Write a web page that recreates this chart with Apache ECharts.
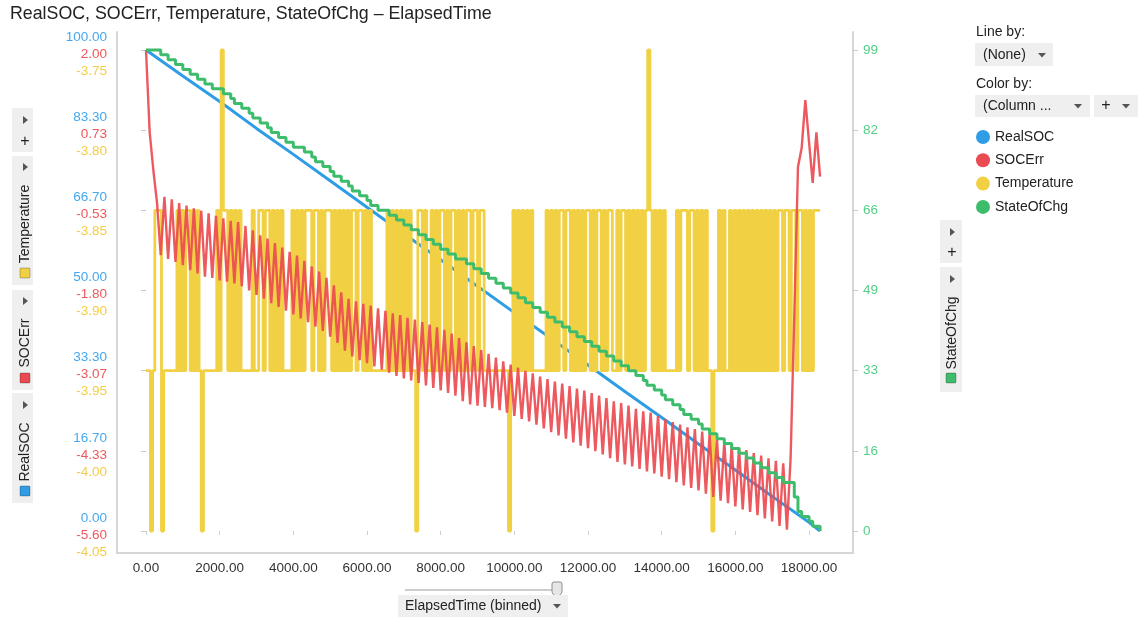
<!DOCTYPE html>
<html>
<head>
<meta charset="utf-8">
<title>RealSOC, SOCErr, Temperature, StateOfChg – ElapsedTime</title>
<script src="https://cdn.jsdelivr.net/npm/echarts@6/dist/echarts.min.js"></script>
<style>
  html, body { margin: 0; padding: 0; background: #fff; }
  #chart { width: 1146px; height: 619px; }
</style>
</head>
<body>
<div id="chart"></div>
<script>
// ElapsedTime is binned: SOCErr / StateOfChg per 100 s, Temperature per 60 s
const binWidth = 100;
const tempBinWidth = 60;

// RealSOC sampled every 1000 s (plus the last bin)
const socTimes = [0, 1000, 2000, 3000, 4000, 5000, 6000, 7000, 8000, 9000,
  10000, 11000, 12000, 13000, 14000, 15000, 16000, 17000, 18000, 18300];
const realSOC = [100, 94.6, 89.3, 83.7, 78.3, 72.8, 67.3, 61.8, 56.4, 50.9,
  45.4, 40.0, 34.5, 29.0, 23.6, 18.1, 12.7, 7.2, 1.8, 0];

const socErr = [
  2.00, 0.70, 0.10, -0.42, -1.24, -0.32, -1.30, -0.36, -1.35, -0.42,
  -1.40, -0.46, -1.48, -0.50, -1.53, -0.54, -1.58, -0.58, -1.60, -0.62,
  -1.64, -0.66, -1.66, -0.70, -1.69, -0.72, -1.73, -0.78, -1.80, -0.85,
  -1.87, -0.93, -1.93, -0.98, -2.00, -1.05, -2.06, -1.12, -2.12, -1.19,
  -2.18, -1.25, -2.24, -1.33, -2.30, -1.42, -2.37, -1.50, -2.44, -1.60,
  -2.53, -1.72, -2.63, -1.83, -2.75, -1.93, -2.84, -1.97, -2.90, -2.01,
  -2.95, -2.04, -3.00, -2.08, -3.05, -2.12, -3.10, -2.16, -3.15, -2.19,
  -3.19, -2.23, -3.22, -2.26, -3.26, -2.30, -3.30, -2.34, -3.34, -2.38,
  -3.38, -2.42, -3.42, -2.48, -3.46, -2.55, -3.55, -2.62, -3.60, -2.68,
  -3.62, -2.74, -3.64, -2.80, -3.66, -2.86, -3.69, -2.92, -3.73, -2.97,
  -3.78, -3.02, -3.83, -3.07, -3.87, -3.11, -3.92, -3.16, -3.98, -3.20,
  -4.04, -3.24, -4.09, -3.27, -4.14, -3.31, -4.20, -3.35, -4.25, -3.38,
  -4.29, -3.42, -4.34, -3.46, -4.39, -3.50, -4.45, -3.55, -4.51, -3.58,
  -4.55, -3.62, -4.58, -3.67, -4.62, -3.71, -4.66, -3.73, -4.69, -3.78,
  -4.74, -3.83, -4.78, -3.88, -4.83, -3.92, -4.88, -3.96, -4.92, -3.99,
  -4.96, -4.03, -5.01, -4.07, -5.06, -4.14, -5.12, -4.19, -5.16, -4.24,
  -5.21, -4.28, -5.26, -4.32, -5.30, -4.37, -5.35, -4.41, -5.40, -4.45,
  -5.45, -4.49, -5.52, -4.53, -5.58, -4.45, -2.20, 0.15, 0.45, 1.21,
  0.55, -0.10, 0.70, 0.00
];

// Temperature per 60 s bin: -3.85 / -3.95 levels, spikes to -3.75 and -4.05
const temperature = [
  -3.95, -3.95, -4.05, -3.95, -3.85, -3.85, -3.85, -4.05, -3.95, -3.95,
  -3.95, -3.95, -3.95, -3.95, -3.85, -3.95, -3.85, -3.95, -3.85, -3.85,
  -3.95, -3.85, -3.95, -3.85, -3.95, -4.05, -3.95, -3.95, -3.95, -3.95,
  -3.95, -3.95, -3.85, -3.95, -3.75, -3.85, -3.85, -3.95, -3.85, -3.95,
  -3.85, -3.95, -3.85, -3.95, -3.95, -3.95, -3.95, -3.95, -3.85, -3.95,
  -3.95, -3.85, -3.85, -3.95, -3.85, -3.85, -3.95, -3.85, -3.95, -3.85,
  -3.95, -3.85, -3.95, -3.95, -3.95, -3.95, -3.85, -3.95, -3.85, -3.95,
  -3.85, -3.95, -3.85, -3.85, -3.85, -3.95, -3.85, -3.85, -3.95, -3.85,
  -3.95, -3.85, -3.85, -3.85, -3.95, -3.85, -3.95, -3.85, -3.95, -3.85,
  -3.95, -3.85, -3.95, -3.85, -3.85, -3.95, -3.85, -3.85, -3.95, -3.85,
  -3.95, -3.85, -3.95, -3.95, -3.95, -3.95, -3.95, -3.95, -3.95, -3.85,
  -3.95, -3.85, -3.95, -3.85, -3.95, -3.85, -3.95, -3.85, -3.95, -3.85,
  -3.95, -3.95, -4.05, -3.85, -3.85, -3.95, -3.85, -3.95, -3.95, -3.85,
  -3.95, -3.85, -3.95, -3.85, -3.85, -3.95, -3.85, -3.95, -3.85, -3.85,
  -3.95, -3.85, -3.95, -3.85, -3.95, -3.85, -3.85, -3.95, -3.85, -3.85,
  -3.95, -3.85, -3.85, -3.95, -3.95, -3.95, -3.95, -3.95, -3.95, -3.95,
  -3.95, -3.95, -3.95, -3.95, -4.05, -3.95, -3.85, -3.95, -3.85, -3.95,
  -3.85, -3.95, -3.85, -3.95, -3.85, -3.95, -3.95, -3.95, -3.95, -3.95,
  -3.95, -3.85, -3.95, -3.85, -3.95, -3.85, -3.95, -3.85, -3.85, -3.95,
  -3.85, -3.85, -3.95, -3.85, -3.95, -3.85, -3.95, -3.85, -3.95, -3.85,
  -3.85, -3.95, -3.85, -3.95, -3.85, -3.85, -3.95, -3.85, -3.95, -3.85,
  -3.85, -3.95, -3.95, -3.85, -3.95, -3.85, -3.85, -3.95, -3.85, -3.95,
  -3.85, -3.95, -3.85, -3.95, -3.85, -3.95, -3.85, -3.75, -3.85, -3.95,
  -3.85, -3.95, -3.85, -3.95, -3.85, -3.95, -3.95, -3.95, -3.95, -3.95,
  -3.85, -3.95, -3.85, -3.85, -3.85, -3.95, -3.85, -3.85, -3.95, -3.85,
  -3.95, -3.85, -3.95, -3.85, -3.95, -3.95, -4.05, -3.95, -3.95, -3.85,
  -3.95, -3.85, -3.95, -3.95, -3.85, -3.95, -3.85, -3.95, -3.85, -3.95,
  -3.85, -3.95, -3.85, -3.95, -3.85, -3.95, -3.85, -3.95, -3.85, -3.95,
  -3.85, -3.95, -3.85, -3.95, -3.85, -3.95, -3.85, -3.85, -3.95, -3.85,
  -3.85, -3.95, -3.85, -3.85, -3.95, -3.85, -3.85, -3.95, -3.85, -3.95,
  -3.85, -3.95, -3.85, -3.85, -3.85, -3.85
];

const stateOfChg = [
  99, 99, 99, 99, 98, 98, 97, 97, 96, 96,
  95, 95, 94, 94, 93, 93, 92, 92, 91, 91,
  91, 90, 90, 89, 88, 88, 87, 87, 86, 85,
  85, 84, 84, 83, 82, 82, 81, 81, 80, 80,
  79, 79, 79, 78, 78, 77, 76, 76, 75, 75,
  74, 73, 73, 72, 72, 71, 70, 70, 69, 69,
  68, 67, 67, 66, 66, 66, 65, 65, 64, 64,
  63, 63, 62, 62, 61, 61, 60, 60, 59, 59,
  58, 58, 57, 57, 56, 56, 56, 55, 55, 54,
  54, 53, 53, 52, 52, 51, 51, 50, 50, 49,
  49, 48, 48, 47, 47, 46, 46, 45, 45, 44,
  44, 43, 43, 42, 42, 41, 41, 40, 40, 39,
  39, 38, 38, 37, 37, 36, 36, 35, 35, 34,
  34, 33, 33, 32, 32, 31, 30, 30, 29, 29,
  28, 27, 27, 26, 26, 25, 24, 24, 23, 23,
  22, 21, 21, 20, 20, 19, 19, 18, 18, 17,
  17, 16, 16, 15, 15, 14, 14, 13, 13, 12,
  12, 11, 11, 10, 10, 10, 7, 4, 3, 3,
  2, 1, 1, 0
];

// stacked tick labels of the shared left axis, bottom to top
const socTicks = ['0.00', '16.70', '33.30', '50.00', '66.70', '83.30', '100.00'];
const errTicks = ['-5.60', '-4.33', '-3.07', '-1.80', '-0.53', '0.73', '2.00'];
const tempTicks = ['-4.05', '-4.00', '-3.95', '-3.90', '-3.85', '-3.80', '-3.75'];
const chgTicks = ['0', '16', '33', '49', '66', '82', '99'];

const colors = {
  soc: '#2e9de6', err: '#ea4b50', temp: '#f2d044', chg: '#3dbd6c'
};
const labelColors = {
  soc: '#45a8ef', err: '#ef575b', temp: '#f3cd48', chg: '#55cf88'
};
const font = "'Liberation Sans', Arial, sans-serif";

const binned = (vals, width) => vals.map((v, i) => [i * width, v]);

// small helpers for the Spotfire-like panel controls
const tabBg = '#efefef';
const box = (x, y, w, h) => ({ type: 'rect', shape: { x, y, width: w, height: h }, style: { fill: tabBg } });
const triRight = (x, y) => ({ type: 'polygon', shape: { points: [[x - 2, y - 4], [x + 3, y], [x - 2, y + 4]] }, style: { fill: '#555' } });
const triDown = (x, y) => ({ type: 'polygon', shape: { points: [[x - 4, y - 2], [x + 4, y - 2], [x, y + 2.5]] }, style: { fill: '#555' } });
const txt = (x, y, text, extra) => ({ type: 'text', x, y, style: Object.assign({ text, fill: '#222', font: '14px ' + font, textVerticalAlign: 'middle' }, extra || {}) });
const vtxt = (x, y, text) => ({ type: 'text', x, y, rotation: Math.PI / 2, style: { text, fill: '#222', font: '14px ' + font, textAlign: 'center', textVerticalAlign: 'middle' } });
const swatch = (x, y, c) => ({ type: 'rect', shape: { x, y, width: 10, height: 10, r: 1 }, style: { fill: c, stroke: 'rgba(0,0,0,0.25)', lineWidth: 1 } });
const plus = (x, y) => txt(x, y, '+', { textAlign: 'center', font: '16px ' + font });

const chart = echarts.init(document.getElementById('chart'));

chart.setOption({
  animation: false,
  backgroundColor: '#fff',
  title: {
    text: 'RealSOC, SOCErr, Temperature, StateOfChg – ElapsedTime',
    left: 5, top: 0,
    textStyle: { fontFamily: font, fontSize: 17.8, fontWeight: 'normal', color: '#222' }
  },
  legend: {
    data: ['RealSOC', 'SOCErr', 'Temperature', 'StateOfChg'],
    orient: 'vertical', left: 976, top: 130, padding: 0,
    icon: 'circle', itemWidth: 14, itemHeight: 14, itemGap: 9.3,
    selectedMode: false,
    textStyle: { fontFamily: font, fontSize: 14, color: '#222' }
  },
  grid: [
    // data grid: starts at ElapsedTime 0, ends at the right frame line
    { left: 146, right: 293, top: 50, bottom: 88, outerBoundsMode: 'none' },
    // frame grid: draws the axis lines around the plot
    { left: 117, right: 293, top: 32, bottom: 66, outerBoundsMode: 'none' }
  ],
  xAxis: [
    {
      gridIndex: 0, type: 'value', min: 0, max: 19194, interval: 2000,
      offset: 22,
      axisLine: { show: false },
      axisTick: { show: true, length: 4, lineStyle: { color: '#cfcfcf' } },
      splitLine: { show: false },
      axisLabel: {
        margin: 8, color: '#333', fontFamily: font, fontSize: 13.5,
        showMaxLabel: false,
        formatter: v => v.toFixed(2)
      }
    },
    {
      gridIndex: 1, type: 'value', min: 0, max: 1,
      axisLine: { show: true, lineStyle: { color: '#d6d6d6', width: 2 } },
      axisTick: { show: false }, axisLabel: { show: false }, splitLine: { show: false }
    }
  ],
  yAxis: [
    {
      // shared left axis that carries the three stacked label columns
      gridIndex: 0, type: 'value', position: 'left', offset: 29,
      min: 0, max: 6, interval: 1,
      axisLine: { show: false },
      axisTick: { show: true, length: 5, lineStyle: { color: '#c9c9c9' } },
      splitLine: { show: false },
      axisLabel: {
        margin: 10, padding: [8, 0, 0, 0],
        formatter: v => {
          const i = Math.round(v);
          return '{b|' + socTicks[i] + '}\n{r|' + errTicks[i] + '}\n{y|' + tempTicks[i] + '}';
        },
        rich: {
          b: { color: labelColors.soc, fontFamily: font, fontSize: 13.5, lineHeight: 17, align: 'right' },
          r: { color: labelColors.err, fontFamily: font, fontSize: 13.5, lineHeight: 17, align: 'right' },
          y: { color: labelColors.temp, fontFamily: font, fontSize: 13.5, lineHeight: 17, align: 'right' }
        }
      }
    },
    { gridIndex: 0, type: 'value', show: false, min: 0, max: 100 },
    { gridIndex: 0, type: 'value', show: false, min: -5.6, max: 2.0 },
    { gridIndex: 0, type: 'value', show: false, min: -4.05, max: -3.75 },
    {
      gridIndex: 0, type: 'value', position: 'right',
      min: 0, max: 99, interval: 16.5,
      axisLine: { show: false },
      axisTick: { show: true, length: 5, lineStyle: { color: '#c9c9c9' } },
      splitLine: { show: false },
      axisLabel: {
        margin: 10, color: labelColors.chg, fontFamily: font, fontSize: 13.5,
        formatter: v => chgTicks[Math.round(v / 16.5)]
      }
    },
    {
      gridIndex: 1, type: 'value', position: 'left', min: 0, max: 1,
      axisLine: { show: true, lineStyle: { color: '#d6d6d6', width: 2 } },
      axisTick: { show: false }, axisLabel: { show: false }, splitLine: { show: false }
    },
    {
      gridIndex: 1, type: 'value', position: 'right', min: 0, max: 1,
      axisLine: { show: true, lineStyle: { color: '#d6d6d6', width: 2 } },
      axisTick: { show: false }, axisLabel: { show: false }, splitLine: { show: false }
    }
  ],
  series: [
    {
      name: 'RealSOC', type: 'line', xAxisIndex: 0, yAxisIndex: 1, z: 2,
      data: socTimes.map((t, i) => [t, realSOC[i]]),
      showSymbol: false,
      lineStyle: { width: 3, color: colors.soc }, itemStyle: { color: colors.soc }
    },
    {
      name: 'Temperature', type: 'line', xAxisIndex: 0, yAxisIndex: 3, z: 3,
      data: binned(temperature, tempBinWidth), step: 'end',
      showSymbol: false, clip: false,
      lineStyle: { width: 2.8, color: colors.temp }, itemStyle: { color: colors.temp }
    },
    {
      name: 'SOCErr', type: 'line', xAxisIndex: 0, yAxisIndex: 2, z: 4,
      data: binned(socErr, binWidth),
      showSymbol: false,
      lineStyle: { width: 2.4, color: colors.err, opacity: 0.92 }, itemStyle: { color: colors.err }
    },
    {
      name: 'StateOfChg', type: 'line', xAxisIndex: 0, yAxisIndex: 4, z: 5,
      data: binned(stateOfChg, binWidth), step: 'end',
      showSymbol: false, clip: false,
      lineStyle: { width: 3, color: colors.chg }, itemStyle: { color: colors.chg }
    }
  ],
  graphic: [
    // left axis selectors
    box(12, 108, 21, 44), triRight(25, 120), plus(25, 142),
    box(12, 156, 21, 129), triRight(25, 167), vtxt(25, 224, 'Temperature'), swatch(20, 268, colors.temp),
    box(12, 290, 21, 100), triRight(25, 301), vtxt(25, 343, 'SOCErr'), swatch(20, 373, colors.err),
    box(12, 393, 21, 110), triRight(25, 405), vtxt(25, 452, 'RealSOC'), swatch(20, 486, colors.soc),
    // right axis selectors
    box(940, 220, 22, 43), triRight(952, 232), plus(952, 253),
    box(940, 267, 22, 125), triRight(952, 279), vtxt(952, 333, 'StateOfChg'), swatch(946, 373, colors.chg),
    // line by / color by
    txt(976, 32, 'Line by:'),
    box(975, 43, 78, 23), txt(983, 55, '(None)'), triDown(1042, 55),
    txt(976, 84, 'Color by:'),
    box(975, 95, 115, 22), txt(983, 106, '(Column ...'), triDown(1078, 106),
    box(1094, 95, 44, 22), plus(1106, 106), triDown(1126, 106),
    // x axis selector
    { type: 'line', shape: { x1: 405, y1: 590, x2: 557, y2: 590 }, style: { stroke: '#bdbdbd', lineWidth: 1.5 } },
    { type: 'rect', shape: { x: 552, y: 582, width: 10, height: 14, r: [2, 2, 5, 5] }, style: { fill: '#e6e6e6', stroke: '#8f8f8f', lineWidth: 1 } },
    box(398, 595, 170, 22), txt(405, 606, 'ElapsedTime (binned)'), triDown(557, 606)
  ]
});
</script>
</body>
</html>
